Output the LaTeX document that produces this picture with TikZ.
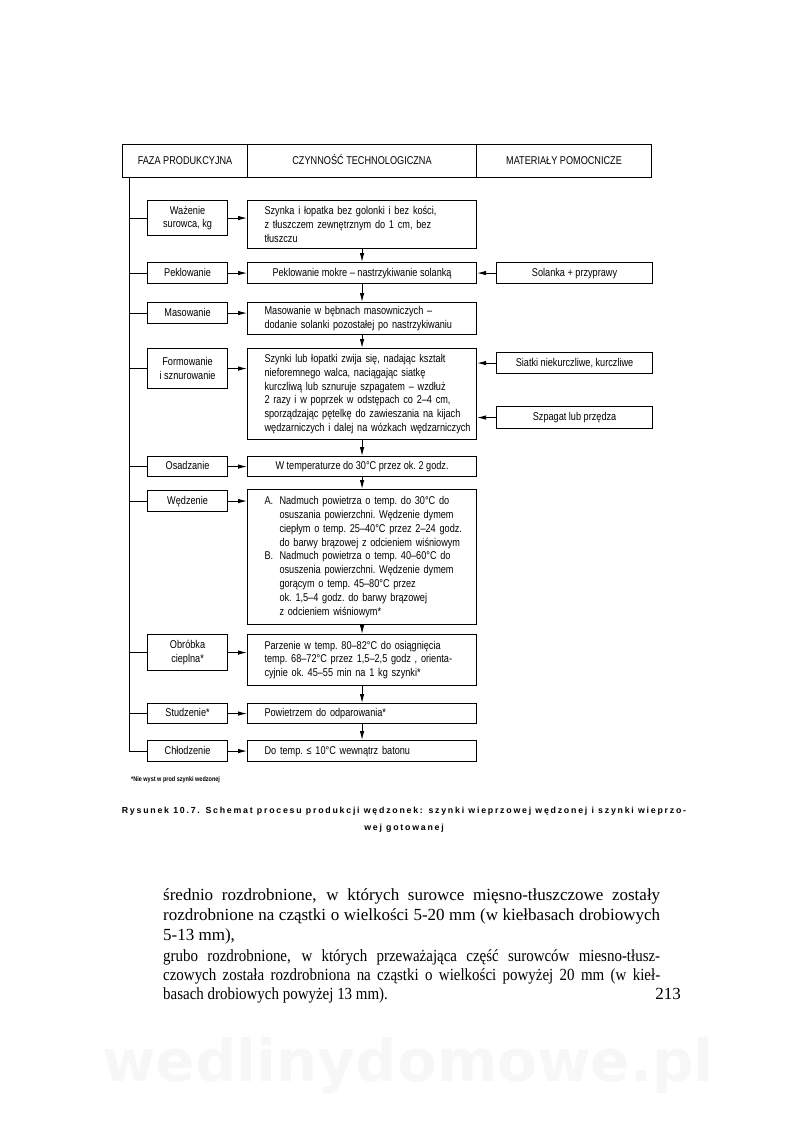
\documentclass[tikz,border=0pt]{standalone}
\usepackage{fontspec}
\setmainfont{Liberation Serif}
\setsansfont{Liberation Sans}[FakeStretch=0.81]
\newfontfamily\capfont{Liberation Sans}[LetterSpace=20]
\newfontfamily\tightfont{Liberation Serif}[FakeStretch=0.88]
\newfontfamily\markfont{DejaVu Sans}
\usetikzlibrary{arrows.meta}

\begin{document}
\begin{tikzpicture}[
    x=1pt, y=-1pt,
    font=\sffamily\fontsize{11.3}{13.8}\selectfont\frenchspacing,
    one/.style={text height=8.5pt, text depth=2.5pt},
    cell/.style={draw, line width=1.1pt, anchor=north west, minimum width=#1,
                 minimum height=33pt, inner sep=0pt, one},
    phase/.style={draw, line width=1.1pt, anchor=north west, minimum width=80pt,
                  minimum height=#1, inner sep=0pt, align=center},
    act/.style={draw, line width=1.1pt, anchor=north west, minimum height=#1,
                text width=195pt, inner xsep=17pt, inner ysep=0pt, align=left,
                execute at begin node={\rightskip=-24pt plus 1fil\relax}},
    actc/.style={draw, line width=1.1pt, anchor=north west, minimum height=#1,
                 minimum width=229pt, inner sep=0pt, one},
    aux/.style={draw, line width=1.1pt, anchor=north west, minimum width=156pt,
                minimum height=#1, inner sep=0pt, one},
    arr/.style={-{Latex[length=9pt,width=4.5pt]}, line width=0.9pt},
    body/.style={anchor=base west, inner sep=0pt, font=\rmfamily\fontsize{17}{20}\selectfont},
]
\useasboundingbox (0,0) rectangle (800,1141);

\node[font=\markfont\bfseries\fontsize{58}{58}\selectfont, text=black!3] (mark) at (408,1066) {wedlinydomowe.pl};

\node[cell=125pt] (hfaza) at (122,144) {FAZA PRODUKCYJNA};
\node[cell=229pt] (hczyn) at (247,144) {CZYNNOŚĆ TECHNOLOGICZNA};
\node[cell=175pt] (hmat)  at (476,144) {MATERIAŁY POMOCNICZE};

\node[phase=35pt]      (waz)  at (147,200) {Ważenie\\surowca, kg};
\node[phase=21pt, one] (pek)  at (147,262) {Peklowanie};
\node[phase=21pt, one] (mas)  at (147,302) {Masowanie};
\node[phase=40pt]      (form) at (147,348) {Formowanie\\i sznurowanie};
\node[phase=20pt, one] (osa)  at (147,456) {Osadzanie};
\node[phase=21pt, one] (wed)  at (147,490) {Wędzenie};
\node[phase=36pt]      (obr)  at (147,634) {Obróbka\\cieplna*};
\node[phase=20pt, one] (stu)  at (147,703) {Studzenie*};
\node[phase=21pt, one] (chl)  at (147,740) {Chłodzenie};

\node[act=48pt] (a1) at (247,200) {Szynka i łopatka bez golonki i bez kości,\\
    z tłuszczem zewnętrznym do 1 cm, bez\\tłuszczu};
\node[actc=21pt] (a2) at (247,262) {Peklowanie mokre – nastrzykiwanie solanką};
\node[act=32pt] (a3) at (247,302) {Masowanie w bębnach masowniczych –\\
    dodanie solanki pozostałej po nastrzykiwaniu};
\node[act=91pt] (a4) at (247,348) {Szynki lub łopatki zwija się, nadając kształt\\
    nieforemnego walca, naciągając siatkę\\
    kurczliwą lub sznuruje szpagatem – wzdłuż\\
    2 razy i w poprzek w odstępach co 2–4 cm,\\
    sporządzając pętelkę do zawieszania na kijach\\
    wędzarniczych i dalej na wózkach wędzarniczych};
\node[actc=20pt] (a5) at (247,456) {W temperaturze do 30°C przez ok. 2 godz.};
\node[act=135pt] (a6) at (247,489) {\makebox[15pt][l]{A.}Nadmuch powietrza o temp. do 30°C do\\
    \hspace*{15pt}osuszania powierzchni. Wędzenie dymem\\
    \hspace*{15pt}ciepłym o temp. 25–40°C przez 2–24 godz.\\
    \hspace*{15pt}do barwy brązowej z odcieniem wiśniowym\\
    \makebox[15pt][l]{B.}Nadmuch powietrza o temp. 40–60°C do\\
    \hspace*{15pt}osuszenia powierzchni. Wędzenie dymem\\
    \hspace*{15pt}gorącym o temp. 45–80°C przez\\
    \hspace*{15pt}ok. 1,5–4 godz. do barwy brązowej\\
    \hspace*{15pt}z odcieniem wiśniowym*};
\node[act=51pt] (a7) at (247,634) {Parzenie w temp. 80–82°C do osiągnięcia\\
    temp. 68–72°C przez 1,5–2,5 godz , orienta-\\
    cyjnie ok. 45–55 min na 1 kg szynki*};
\node[act=20pt, one] (a8) at (247,703) {Powietrzem do odparowania*};
\node[act=21pt, one] (a9) at (247,740) {Do temp. ≤ 10°C wewnątrz batonu};

\node[aux=21pt] (sol) at (496,262) {Solanka + przyprawy};
\node[aux=21pt] (sia) at (496,352) {Siatki niekurczliwe, kurczliwe};
\node[aux=22pt] (szp) at (496,406) {Szpagat lub przędza};

\coordinate (spine) at (129,177);
\draw[line width=1pt] (spine) |- (chl.west);
\foreach \p in {waz,pek,mas,form,osa,wed,obr,stu} {
    \draw[line width=1pt] (spine |- \p.west) -- (\p.west);
}

\foreach \p/\a in {waz/a1,pek/a2,mas/a3,form/a4,osa/a5,wed/a6,obr/a7,stu/a8,chl/a9} {
    \draw[arr] (\p.east) -- (\p.east -| \a.west);
}
\foreach \u/\l in {a1/a2,a2/a3,a3/a4,a4/a5,a5/a6,a6/a7,a7/a8,a8/a9} {
    \draw[arr] (\u.south) -- (\l.north);
}
\draw[arr] (sol.west) -- (sol.west -| a2.east);
\draw[arr] (sia.west) -- (sia.west -| a4.east);
\draw[arr] (szp.west) -- (szp.west -| a4.east);

\node[anchor=west, inner sep=0pt, font=\sffamily\bfseries\fontsize{6.8}{7}\selectfont] (note) at (131,780)
    {*Nie wyst w prod szynki wedzonej};
\node[align=center, font=\capfont\bfseries\fontsize{8.8}{17}\selectfont] (cap) at (404,820)
    {Rysunek 10.7. Schemat procesu produkcji wędzonek: szynki wieprzowej wędzonej i szynki wieprzo-\\
     wej gotowanej};

\node[body] (b1) at (163,900) {\makebox[497pt][s]{średnio rozdrobnione, w których surowce mięsno-tłuszczowe zostały}};
\node[body] (b2) at (163,920) {\makebox[497pt][s]{rozdrobnione na cząstki o wielkości 5-20 mm (w kiełbasach drobiowych}};
\node[body] (b3) at (163,940) {5-13 mm),};
\node[body] (b4) at (163,961) {\tightfont\makebox[497pt][s]{grubo rozdrobnione, w których przeważająca część surowców miesno-tłusz-}};
\node[body] (b5) at (163,980) {\tightfont\makebox[497pt][s]{czowych została rozdrobniona na cząstki o wielkości powyżej 20 mm (w kieł-}};
\node[body] (b6) at (163,999) {\tightfont basach drobiowych powyżej 13 mm).};
\node[body, anchor=base east] (page) at (681,999) {213};
\end{tikzpicture}
\end{document}
